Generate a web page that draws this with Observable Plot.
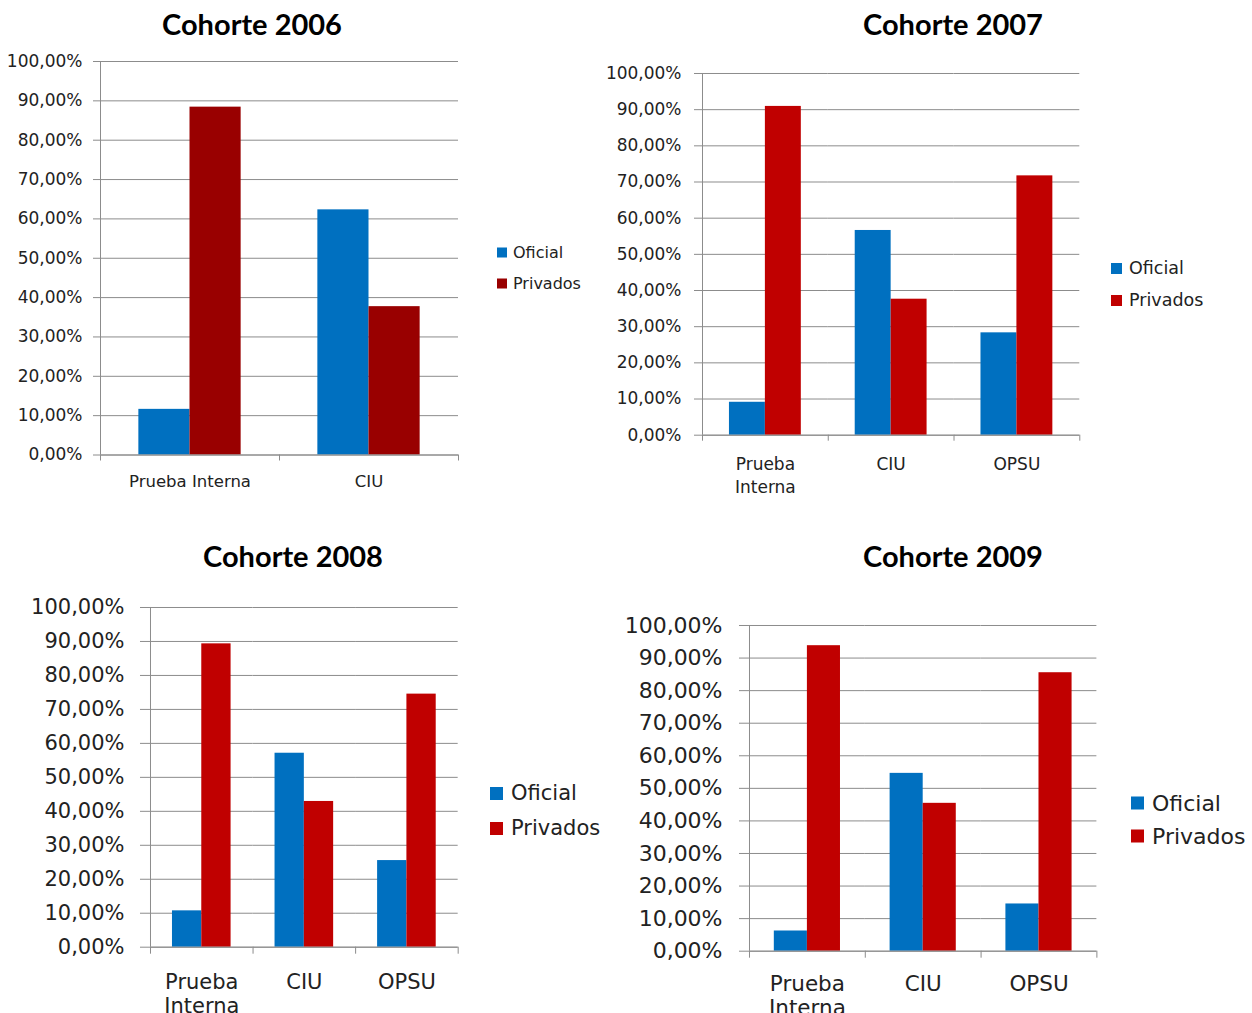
<!DOCTYPE html>
<html>
<head>
<meta charset="utf-8">
<script src="https://cdn.jsdelivr.net/npm/d3@7"></script>
<script src="https://cdn.jsdelivr.net/npm/@observablehq/plot@0.6"></script>
<style>
  body { margin: 0; background: #fff; }
  #root { position: relative; width: 1252px; height: 1013px; overflow: hidden; font-family: "DejaVu Sans", sans-serif; }
  .title { position: absolute; font-family: Lato, sans-serif; font-weight: 700; font-size: 29px; color: #000; transform: translate(-50%, -50%); white-space: nowrap; }
  .plot { position: absolute; }
  .plot svg { display: block; overflow: visible; }
  .legend-row { position: absolute; display: flex; align-items: center; white-space: nowrap; transform: translateY(-50%); color: #222; font-family: "DejaVu Sans", sans-serif; }
  .sw { display: inline-block; }
</style>
</head>
<body>
<div id="root"></div>
<script>
// ---- data ----
const series = ["Oficial", "Privados"];

const categories2006 = ["Prueba Interna", "CIU"];
const tickLabels2006 = ["Prueba Interna", "CIU"];
const oficial2006 = [11.6, 62.3];
const privados2006 = [88.4, 37.7];

const categories = ["Prueba Interna", "CIU", "OPSU"];
const tickLabels = ["Prueba\nInterna", "CIU", "OPSU"];
const oficial2007 = [9.1, 56.6, 28.3];
const privados2007 = [90.9, 37.6, 71.7];
const oficial2008 = [10.7, 57.1, 25.5];
const privados2008 = [89.3, 42.9, 74.5];
const oficial2009 = [6.2, 54.6, 14.5];
const privados2009 = [93.8, 45.4, 85.5];

const yTicks = [0, 10, 20, 30, 40, 50, 60, 70, 80, 90, 100];
const titles = ["Cohorte 2006", "Cohorte 2007", "Cohorte 2008", "Cohorte 2009"];

const colors2006 = ["#0070C0", "#990000"];
const colorsOther = ["#0070C0", "#C00000"];

// ---- layout (page pixels) ----
const layouts = [
  {left: 100, right: 458, top: 60.5, bottom: 454, ml: 100, fs: 17, xfs: 16.5, ts: 7, tp: 11, xp: 16, lh: 1.4, xt: 6,
   tx: 252, ty: 23, lx: 497, ly: 252, lgap: 31, sw: 10, lfs: 16},
  {left: 701.7, right: 1079, top: 73.3, bottom: 435, ml: 130, fs: 17, xfs: 17, ts: 8, tp: 13, xp: 18, lh: 1.36, xt: 6,
   tx: 953, ty: 23, lx: 1111, ly: 268, lgap: 32, sw: 11, lfs: 17.5},
  {left: 150, right: 457.7, top: 607.3, bottom: 947, ml: 150, fs: 21, xfs: 21, ts: 10, tp: 16, xp: 25, lh: 1.15, xt: 7,
   tx: 293, ty: 555, lx: 490, ly: 793, lgap: 35, sw: 13, lfs: 21},
  {left: 749.3, right: 1096.7, top: 625, bottom: 950.7, ml: 140, fs: 22, xfs: 21.5, ts: 10, tp: 17, xp: 23, lh: 1.12, xt: 7,
   tx: 953, ty: 555, lx: 1131, ly: 803, lgap: 33, sw: 13, lfs: 22}
];

const fmt = d => d.toFixed(2).replace(".", ",") + "%";
const root = document.getElementById("root");

function panel(L, title, cats, labels, ofi, pri, colors) {
  const data = cats.flatMap((c, i) => [
    {cat: c, series: series[0], value: ofi[i]},
    {cat: c, series: series[1], value: pri[i]}
  ]);
  const plotW = L.right - L.left;
  const plotH = L.bottom - L.top;
  const facetW = plotW / cats.length;
  const edge = facetW * 1.25 / 3.5; // outer bar centre to category boundary
  const mt = 15, mr = 14, mb = 80;
  const grey = "#8c8c8c";
  const chart = Plot.plot({
    width: L.ml + plotW + mr,
    height: mt + plotH + mb,
    marginLeft: L.ml, marginRight: mr, marginTop: mt, marginBottom: mb,
    style: {fontFamily: "DejaVu Sans, sans-serif", fontSize: L.fs + "px", color: "#222", background: "transparent", overflow: "visible"},
    fx: {domain: cats, padding: 0, round: false, axis: null, label: null},
    x: {domain: series, paddingInner: 0, paddingOuter: 0.75, round: false, axis: null, label: null},
    y: {domain: [0, 100], axis: null, label: null},
    color: {domain: series, range: colors},
    marks: [
      Plot.gridY(yTicks, {stroke: grey, strokeOpacity: 1, strokeWidth: 1}),
      Plot.barY(data, {fx: "cat", x: "series", y: "value", fill: "series"}),
      Plot.axisY(yTicks, {anchor: "left", facetAnchor: "left", label: null, tickSize: L.ts, tickPadding: L.tp, tickFormat: fmt, stroke: grey, fill: "#222", fontSize: L.fs}),
      Plot.ruleX([cats[0]], {fx: d => d, x: () => series[0], y1: 0, y2: 100, dx: -edge, stroke: grey}),
      Plot.ruleX(cats, {fx: d => d, x: () => series[0], y1: 0, y2: 0, insetBottom: -L.xt, dx: -edge, stroke: grey}),
      Plot.ruleX([cats[cats.length - 1]], {fx: d => d, x: () => series[1], y1: 0, y2: 0, insetBottom: -L.xt, dx: edge, stroke: grey}),
      Plot.ruleY([0], {stroke: grey}),
      Plot.axisFx({anchor: "bottom", tickSize: 0, tickPadding: L.xp, tickFormat: d => labels[cats.indexOf(d)], lineHeight: L.lh, fontSize: L.xfs, fill: "#222", label: null})
    ]
  });
  const wrap = document.createElement("div");
  wrap.className = "plot";
  wrap.style.left = (L.left - L.ml) + "px";
  wrap.style.top = (L.top - mt) + "px";
  wrap.appendChild(chart);
  root.appendChild(wrap);

  const t = document.createElement("div");
  t.className = "title";
  t.textContent = title;
  t.style.left = L.tx + "px";
  t.style.top = L.ty + "px";
  root.appendChild(t);

  series.forEach((s, i) => {
    const row = document.createElement("div");
    row.className = "legend-row";
    row.style.left = L.lx + "px";
    row.style.top = (L.ly + i * L.lgap) + "px";
    row.style.fontSize = L.lfs + "px";
    const sw = document.createElement("span");
    sw.className = "sw";
    sw.style.width = L.sw + "px";
    sw.style.height = L.sw + "px";
    sw.style.background = colors[i];
    sw.style.marginRight = Math.round(L.sw * 0.6) + "px";
    row.appendChild(sw);
    row.appendChild(document.createTextNode(s));
    root.appendChild(row);
  });
}

panel(layouts[0], titles[0], categories2006, tickLabels2006, oficial2006, privados2006, colors2006);
panel(layouts[1], titles[1], categories, tickLabels, oficial2007, privados2007, colorsOther);
panel(layouts[2], titles[2], categories, tickLabels, oficial2008, privados2008, colorsOther);
panel(layouts[3], titles[3], categories, tickLabels, oficial2009, privados2009, colorsOther);
</script>
</body>
</html>
